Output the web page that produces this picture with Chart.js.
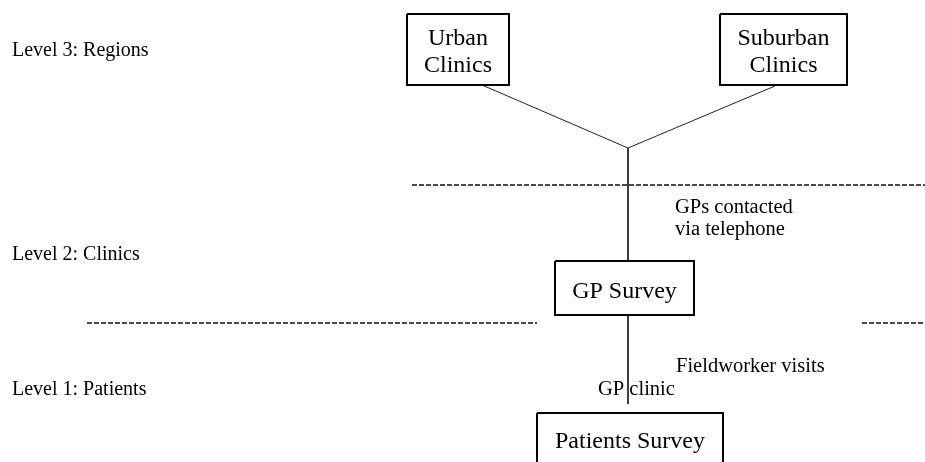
<!DOCTYPE html>
<html>
<head>
<meta charset="utf-8">
<script src="https://cdn.jsdelivr.net/npm/chart.js@4"></script>
<style>body{margin:0;background:#fff}</style>
</head>
<body>
<canvas id="diagram" width="925" height="462"></canvas>
<script>
// level labels on the left
const levelLabels = ['Level 3: Regions', 'Level 2: Clinics', 'Level 1: Patients'];
const levelY = [56, 260, 395];

// boxes (label lines, edges in diagram units)
const boxLabels = [['Urban', 'Clinics'], ['Suburban', 'Clinics'], ['GP Survey'], ['Patients Survey']];
const boxLeft = [407, 720, 555, 537];
const boxRight = [509, 847, 694, 723];
const boxTop = [14, 14, 261, 413];
const boxBottom = [85, 85, 315, 472];
const boxBaselines = [[45, 72], [45, 72], [298], [448]];

// connectors between boxes
const linkFrom = [[482, 85], [775, 86], [628, 148], [628, 315]];
const linkTo = [[628, 148], [628, 148], [628, 261], [628, 404]];

// dashed level separators
const sepY = [185, 323, 323];
const sepStart = [412, 87, 862];
const sepEnd = [925, 537, 925];

// notes beside the connectors
const noteText = ['GPs contacted', 'via telephone', 'Fieldworker visits', 'GP clinic'];
const noteX = [675, 675, 676, 598];
const noteY = [213, 235, 372, 395];

const datasets = [];

boxLabels.forEach((lbl, i) => {
    datasets.push({
        data: [
            { x: boxLeft[i], y: boxTop[i] },
            { x: boxRight[i], y: boxTop[i] },
            { x: boxRight[i], y: boxBottom[i] },
            { x: boxLeft[i], y: boxBottom[i] },
            { x: boxLeft[i], y: boxTop[i] }
        ],
        borderColor: '#000',
        borderWidth: 2,
        borderJoinStyle: 'miter'
    });
});

linkFrom.forEach((p, i) => {
    datasets.push({
        data: [{ x: p[0], y: p[1] }, { x: linkTo[i][0], y: linkTo[i][1] }],
        borderColor: '#222',
        borderWidth: 1
    });
});

sepY.forEach((y, i) => {
    datasets.push({
        data: [{ x: sepStart[i], y: y }, { x: sepEnd[i], y: y }],
        borderColor: '#111',
        borderWidth: 1.6,
        borderDash: [5, 2]
    });
});

// draws all the text through the scales
const textPlugin = {
    id: 'diagramText',
    afterDatasetsDraw(chart) {
        const ctx = chart.ctx;
        const xs = chart.scales.x;
        const ys = chart.scales.y;
        ctx.save();
        ctx.fillStyle = '#000';
        ctx.textBaseline = 'alphabetic';

        ctx.font = '20px "Liberation Serif", "Times New Roman", serif';
        ctx.textAlign = 'left';
        levelLabels.forEach((t, i) => {
            ctx.fillText(t, xs.getPixelForValue(12), ys.getPixelForValue(levelY[i]));
        });

        ctx.font = '24px "Liberation Serif", "Times New Roman", serif';
        ctx.textAlign = 'center';
        boxLabels.forEach((lines, i) => {
            const cx = (boxLeft[i] + boxRight[i]) / 2;
            lines.forEach((t, j) => {
                ctx.fillText(t, xs.getPixelForValue(cx), ys.getPixelForValue(boxBaselines[i][j]));
            });
        });

        ctx.font = '20.5px "Liberation Serif", "Times New Roman", serif';
        ctx.textAlign = 'left';
        noteText.forEach((t, i) => {
            ctx.fillText(t, xs.getPixelForValue(noteX[i]), ys.getPixelForValue(noteY[i]));
        });
        ctx.restore();
    }
};

new Chart(document.getElementById('diagram'), {
    type: 'scatter',
    data: { datasets: datasets },
    options: {
        responsive: false,
        animation: false,
        showLine: true,
        elements: { point: { radius: 0, hoverRadius: 0 }, line: { tension: 0 } },
        layout: { padding: 0 },
        plugins: { legend: { display: false }, tooltip: { enabled: false } },
        scales: {
            x: { type: 'linear', min: 0, max: 925, display: false },
            y: { type: 'linear', min: 0, max: 462, reverse: true, display: false }
        }
    },
    plugins: [textPlugin]
});
</script>
</body>
</html>
